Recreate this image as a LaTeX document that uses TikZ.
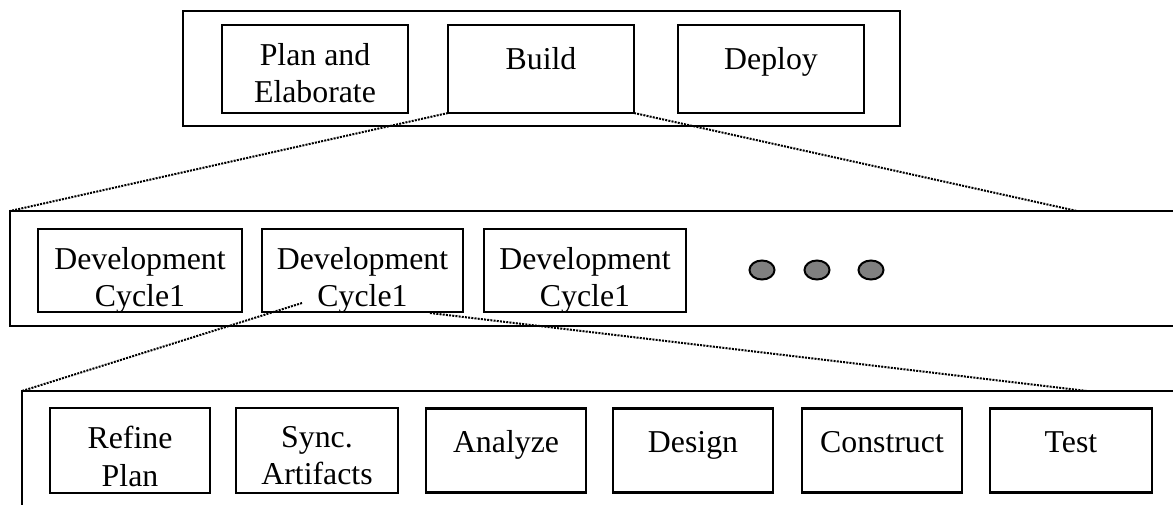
\documentclass[tikz,border=0pt]{standalone}
\usepackage{fontspec}
\setmainfont{Liberation Serif}
\usepackage{tikz}
\usetikzlibrary{positioning, shapes.geometric}
\definecolor{dotgray}{RGB}{128,128,128}

\begin{document}
\begin{tikzpicture}[x=0.5pt, y=-0.5pt,
      font=\fontsize{15.9}{18.85}\selectfont,
      wrap/.style={draw, line width=1.3pt, anchor=north west, inner sep=0pt, outer sep=0pt},
      stage/.style={draw, line width=1.3pt, inner sep=0pt, outer sep=0pt, minimum width=#1},
      lbl/.style={anchor=north, inner sep=0pt, align=center, yshift=-8.8pt, execute at begin node=\strut},
      more/.style={ellipse, draw, line width=1pt, fill=dotgray, inner sep=0pt, minimum width=12.5pt, minimum height=9.5pt},
      link/.style={line width=1pt, dash pattern=on 1pt off 0.6pt}]
    \clip (0,0) rectangle (1173,504);
    % phases
    \node[wrap, minimum width=358.5pt, minimum height=57.5pt] (phases) at (183,11) {};
    \node[stage=93pt, minimum height=44pt, anchor=north west, label={[lbl]north:{Plan and\\Elaborate}}] (plan) at (222,25) {};
    \node[stage=93pt, minimum height=44pt, right=20pt of plan, label={[lbl]north:Build}] (build) {};
    \node[stage=93pt, minimum height=44pt, right=22pt of build, label={[lbl]north:Deploy}] (deploy) {};
    % cycles
    \node[wrap, minimum width=650pt, minimum height=57.5pt] (cycles) at (10,211) {};
    \node[stage=102pt, minimum height=41.5pt, anchor=north west, label={[lbl]north:{Development\\Cycle1}}] (dev1) at (38,229) {};
    \node[stage=100.5pt, minimum height=41.5pt, right=10pt of dev1, label={[lbl]north:{Development\\Cycle1}}] (dev2) {};
    \node[stage=101pt, minimum height=41.5pt, right=10.5pt of dev2, label={[lbl]north:{Development\\Cycle1}}] (dev3) {};
    \node[more] (dot1) at (762,270) {};
    \node[more, right=14pt of dot1] (dot2) {};
    \node[more, right=13.5pt of dot2] (dot3) {};
    % tasks
    \node[wrap, minimum width=650pt, minimum height=75pt] (tasks) at (22,391) {};
    \node[stage=80pt, minimum height=42.5pt, anchor=north west, label={[lbl]north:{Refine\\Plan}}] (refine) at (50,408) {};
    \node[stage=81pt, minimum height=42.5pt, right=13pt of refine, label={[lbl]north:{Sync.\\Artifacts}}] (sync) {};
    \node[stage=80pt, minimum height=42pt, right=14pt of sync, label={[lbl]north:Analyze}] (analyze) {};
    \node[stage=80pt, minimum height=42pt, right=13.5pt of analyze, label={[lbl]north:Design}] (design) {};
    \node[stage=80pt, minimum height=42pt, right=14.5pt of design, label={[lbl]north:Construct}] (construct) {};
    \node[stage=81pt, minimum height=42pt, right=14pt of construct, label={[lbl]north:Test}] (test) {};
    % zoom lines
    \coordinate (cycR) at (1077,211);
    \coordinate (dev2in) at (302,303);
    \coordinate (dev2out) at (430,313);
    \coordinate (taskR) at (1087,391);
    \draw[link] (build.south west) -- (cycles.north west);
    \draw[link] (build.south east) -- (cycR);
    \draw[link] (dev2in) -- (tasks.north west);
    \draw[link] (dev2out) -- (taskR);
  \end{tikzpicture}
\end{document}
